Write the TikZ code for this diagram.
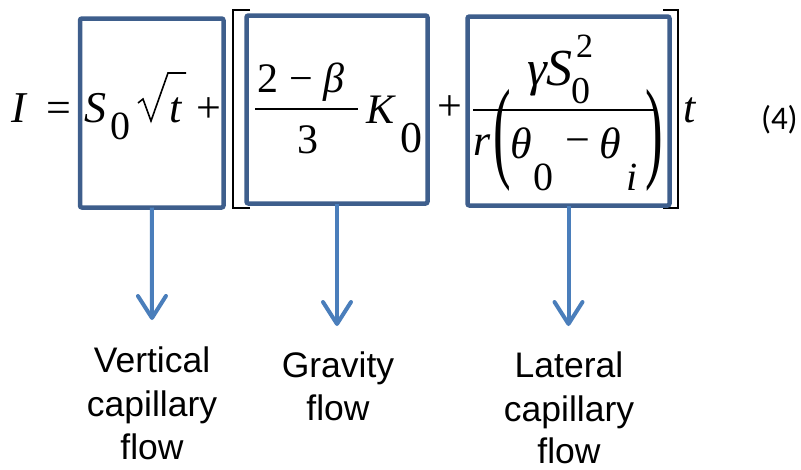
\documentclass[tikz,border=0pt]{standalone}
\usepackage{fontspec}
\usepackage{graphicx}
\usetikzlibrary{arrows.meta}
\newfontfamily\eqf{Liberation Serif}
\newfontfamily\labf{Liberation Sans}
\newfontfamily\numf{Carlito}
\definecolor{boxblue}{RGB}{62,94,140}
\definecolor{arrblue}{RGB}{74,126,187}
\newcommand\gly[5]{\node[glyph,font=\eqf\fontsize{#4}{#4}\selectfont] (#1) at (#2,#3) {#5};}
\newcommand\labline[5]{\node[labtext] (#1) at (#2,#3) {#4};}
\tikzset{
  glyph/.style={inner sep=0pt,outer sep=0pt,anchor=base west},
  flowbox/.style={draw=boxblue,line width=4.5pt,rounded corners=2pt,inner sep=0pt,outer sep=0pt},
  flowarrow/.style={draw=arrblue,line width=4pt,-{Straight Barb[length=22pt,width=28pt,line cap=round,line join=round]}},
  labtext/.style={inner sep=0pt,outer sep=0pt,anchor=base,font=\labf\fontsize{35.5}{43}\selectfont},
  brack/.style={draw=black,line width=2.5pt},
  fbar/.style={draw=black,line width=1.6pt}
}
\begin{document}
\begin{tikzpicture}[x=1pt,y=-1pt]
\useasboundingbox (0,0) rectangle (801,469);
% brackets
\draw[brack] (250,10) -- (233,10) -- (233,208) -- (250,208);
\draw[brack] (663,10) -- (678,10) -- (678,208) -- (663,208);
% boxes
\node[flowbox,minimum width=143.5pt,minimum height=189pt] (b1) at (151.75,113) {};
\node[flowbox,minimum width=181pt,minimum height=188pt] (b2) at (337,109.5) {};
\node[flowbox,minimum width=202pt,minimum height=189pt] (b3) at (568.5,111) {};
% equation
\gly{gI}{12}{122}{44}{\itshape I}
\gly{geq}{46}{122}{44}{=}
\gly{gS}{84}{122}{44}{\itshape S}
\gly{gSz}{110}{139}{40}{0}
\draw[line width=1.6pt,line join=miter] (138,103) -- (143,99) -- (151,121) -- (168,73) -- (186,73);
\gly{gt}{169}{122}{44}{\itshape t}
\gly{gp1}{196}{122}{44}{+}
\gly{gtwo}{257}{92}{42}{2}
\gly{gm1}{289}{92}{42}{−}
\gly{gbeta}{323}{92}{42}{\itshape β}
\draw[fbar] (255,109) -- (358,109);
\gly{gthree}{297}{153}{42}{3}
\gly{gK}{366}{123}{42}{\itshape K}
\gly{gKz}{400}{152}{44}{0}
\gly{gp2}{437}{120}{44}{+}
\gly{ggam}{527}{85}{50}{\itshape γ}
\gly{gS2}{546}{85}{52}{\itshape S}
\gly{gsq}{576}{57}{34}{2}
\gly{gSz2}{571}{103}{38}{0}
\draw[fbar] (473,110) -- (657,110);
\gly{gr}{473}{155}{44}{\itshape r}
\gly{glp}{493}{167.5}{46}{\scalebox{1.15}[2.45]{(}}
\gly{gth1}{510}{158}{44}{\itshape θ}
\gly{gthz}{533}{190}{40}{0}
\gly{gm2}{565}{154}{44}{−}
\gly{gth2}{599}{158}{44}{\itshape θ}
\gly{gi}{626}{190}{40}{\itshape i}
\gly{grp}{645}{167.5}{46}{\scalebox{1.15}[2.45]{)}}
\gly{gt2}{683}{122}{44}{\itshape t}
\node[glyph,font=\numf\fontsize{33}{33}\selectfont] (eqno) at (761,129) {(4)};
% arrows
\coordinate (t1) at (152,320);
\coordinate (t2) at (337,326);
\coordinate (t3) at (568.5,326);
\draw[flowarrow] (b1.south) -- (t1);
\draw[flowarrow] (b2.south) -- (t2);
\draw[flowarrow] (b3.south) -- (t3);
% labels
\labline{l1a}{152}{372}{Vertical}{}
\labline{l1b}{152}{416}{capillary}{}
\labline{l1c}{152}{459}{flow}{}
\labline{l2a}{338}{377}{Gravity}{}
\labline{l2b}{338}{420}{flow}{}
\labline{l3a}{569}{377}{Lateral}{}
\labline{l3b}{569}{421}{capillary}{}
\labline{l3c}{569}{463}{flow}{}
\end{tikzpicture}
\end{document}
